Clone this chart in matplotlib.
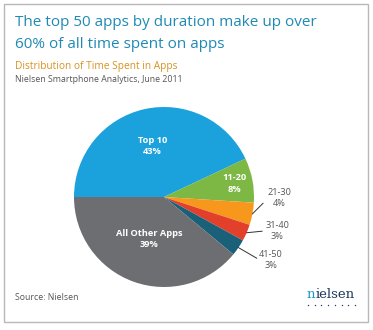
import numpy as np
from matplotlib import pyplot as plt
from matplotlib.patches import Rectangle

# data
groups = ['Top 10', '11-20', '21-30', '31-40', '41-50', 'All Other Apps']
shares = [43, 8, 4, 3, 3, 39]
colors = ['#1ba1dc', '#7cb843', '#f7981d', '#e2402a', '#1b6079', '#6d6e71']

plt.rcParams['font.family'] = ['Open Sans', 'DejaVu Sans']

fig = plt.figure(figsize=(3.73, 3.30), dpi=100)
fig.patch.set_facecolor('white')
fig.patches.append(Rectangle((4/373, 8/330), 364/373, 318/330, transform=fig.transFigure,
                             fill=False, edgecolor='#b8b8b8', linewidth=1.0))

# titles
fig.text(15/373, 1 - 22/330, 'The top 50 apps by duration make up over', color='#1e8ab5',
         fontsize=11.0, va='center', ha='left')
fig.text(15/373, 1 - 44/330, '60% of all time spent on apps', color='#1e8ab5',
         fontsize=11.0, va='center', ha='left')
fig.text(15/373, 1 - 67/330, 'Distribution of Time Spent in Apps', color='#d8921e',
         fontsize=7.3, va='center', ha='left')
fig.text(15/373, 1 - 80/330, 'Nielsen Smartphone Analytics, June 2011', color='#555555',
         fontsize=6.3, va='center', ha='left')
fig.text(15/373, 1 - 297/330, 'Source: Nielsen', color='#555555',
         fontsize=6.3, va='center', ha='left')

# pie
ax = fig.add_axes([74/373, 43/330, 180/373, 180/330])
wedges, _ = ax.pie(shares, colors=colors, startangle=180, counterclock=False,
                   radius=1.0, wedgeprops=dict(linewidth=0))
ax.set_xlim(-1, 1)
ax.set_ylim(-1, 1)
ax.set_aspect('equal')
ax.axis('off')

def mid(w):
    return np.deg2rad((w.theta1 + w.theta2) / 2)

# labels inside the pie
inside = {0: 0.58, 1: 0.80, 5: 0.50}
for i, r in inside.items():
    a = mid(wedges[i])
    ax.text(r * np.cos(a), r * np.sin(a), '{}\n{}%'.format(groups[i], shares[i]),
            color='white', fontsize=6.7, fontweight='bold', ha='center', va='center',
            linespacing=1.3)

# small slices get leader lines: (line end, label centre) in axes units
leaders = {2: ((1.10, -0.07), (1.28, -0.01)),
           3: ((1.09, -0.38), (1.26, -0.38)),
           4: ((1.03, -0.68), (1.19, -0.70))}
for i, ((x1, y1), (tx, ty)) in leaders.items():
    a = mid(wedges[i])
    ax.plot([np.cos(a), x1], [np.sin(a), y1], color='#333333', linewidth=0.7, clip_on=False)
    ax.text(tx, ty, '{}\n{}%'.format(groups[i], shares[i]),
            color='#555555', fontsize=6.6, ha='center', va='center', linespacing=1.3)

# nielsen logo
fig.text(306.5/373, 1 - 295/330, 'n', color='#1a9ac9', fontsize=9.5,
         family=['DejaVu Serif'], va='center', ha='left')
fig.text(315.3/373, 1 - 295/330, 'ielsen', color='#1f3a5f', fontsize=9.5,
         family=['DejaVu Serif'], va='center', ha='left')
ov = fig.add_axes([0, 0, 1, 1], facecolor='none')
ov.set_xlim(0, 373)
ov.set_ylim(330, 0)
ov.axis('off')
dots_x = np.linspace(308, 355, 8)
ov.scatter(dots_x, [305] * len(dots_x), s=1.0, color='#1f3a5f', linewidths=0)

fig.savefig('out.png', dpi=100)
